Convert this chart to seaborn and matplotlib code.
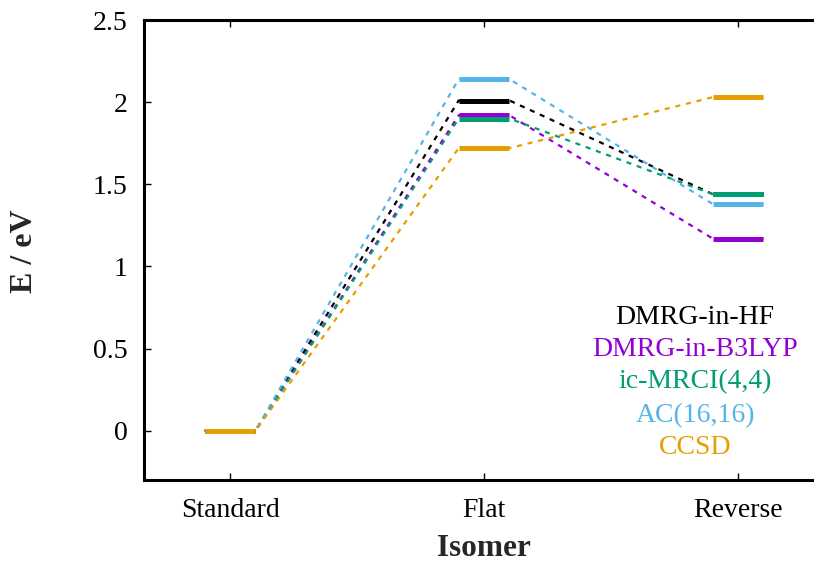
import numpy as np
import pandas as pd
import matplotlib
matplotlib.use("Agg")
import matplotlib.pyplot as plt
from matplotlib.ticker import FormatStrFormatter
import seaborn as sns

isomers = ["Standard", "Flat", "Reverse"]
methods = ["DMRG-in-HF", "DMRG-in-B3LYP", "ic-MRCI(4,4)", "AC(16,16)", "CCSD"]
hf = [0.0, 2.01, 1.44]
b3lyp = [0.0, 1.92, 1.17]
mrci = [0.0, 1.90, 1.44]
ac = [0.0, 2.14, 1.38]
ccsd = [0.0, 1.72, 2.03]
colors = ["#000000", "#9400D3", "#009E73", "#56B4E9", "#E69F00"]

sns.set_style("ticks")
plt.rcParams['font.family'] = ['Liberation Serif', 'DejaVu Serif']

energies = [hf, b3lyp, mrci, ac, ccsd]
half = 0.1
xpos = np.arange(1, len(isomers) + 1)

# long table with both ends of every level, the dashed path runs through them
rows = []
for m, vals in zip(methods, energies):
    for i, e in enumerate(vals):
        rows.append({"method": m, "x": xpos[i] - half, "E": e, "order": 2 * i})
        rows.append({"method": m, "x": xpos[i] + half, "E": e, "order": 2 * i + 1})
df = pd.DataFrame(rows)

fig = plt.figure(figsize=(8.14, 5.65), dpi=100)
ax = fig.add_axes([144 / 814, 1 - 480 / 565, 670 / 814, 460 / 565])

for m, c in zip(methods, colors):
    sub = df[df.method == m].sort_values("order")
    sns.lineplot(data=sub, x="x", y="E", sort=False, estimator=None,
                 color=c, lw=1.6, ls=(0, (2.3, 2.6)), ax=ax)
for m, c, vals in zip(methods, colors, energies):
    ax.hlines(vals, xpos - half, xpos + half, colors=c, lw=3.6, zorder=5)

ax.set_xlim(0.661, 3.299)
ax.set_ylim(-0.3, 2.5)
ax.set_xticks(xpos)
ax.set_xticklabels(isomers)
ax.set_yticks([0, 0.5, 1, 1.5, 2, 2.5])
ax.yaxis.set_major_formatter(FormatStrFormatter('%g'))
ax.tick_params(direction="in", length=5, width=1, labelsize=20,
               top=True, right=False, colors="black")
ax.tick_params(axis="y", pad=12)
ax.tick_params(axis="x", pad=13)
for s in ["left", "bottom", "top"]:
    ax.spines[s].set_linewidth(2.2)
    ax.spines[s].set_color("black")
ax.spines["right"].set_visible(False)
ax.set_xlabel("")
ax.set_ylabel("")

fig.text(484 / 814, 1 - 549 / 565, "Isomer", fontsize=22.5, fontweight="bold",
         ha="center", va="center")
fig.text(25 / 814, 1 - 251 / 565, "E / eV", fontsize=23, fontweight="bold",
         ha="center", va="center", rotation=90)

ys = [317, 350, 382, 416, 447]
for m, c, y in zip(methods, colors, ys):
    fig.text(695 / 814, 1 - y / 565, m, color=c, fontsize=20,
             ha="center", va="center")

fig.savefig("out.png", dpi=100)
